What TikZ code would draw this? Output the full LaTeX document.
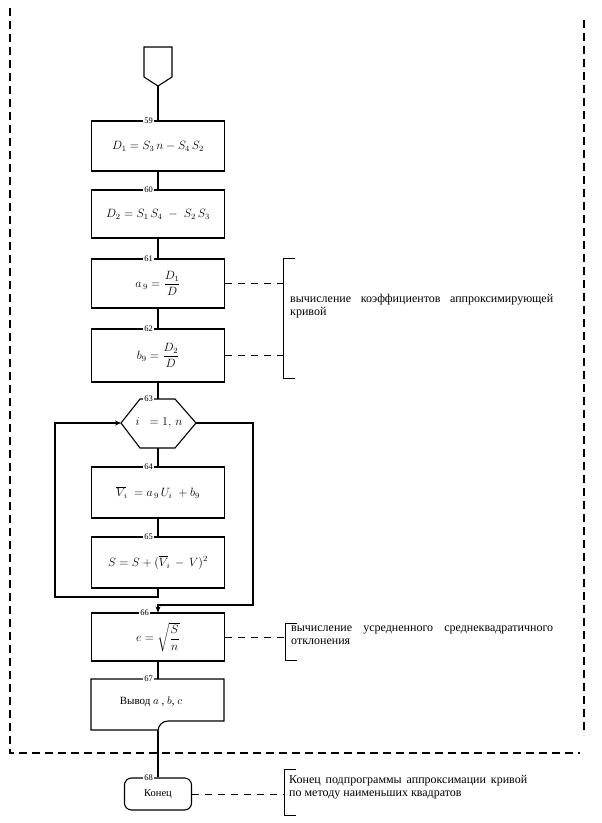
\documentclass[tikz,border=0pt]{standalone}
\usepackage{amsmath}
\usepackage{fontspec}
\setmainfont{Liberation Serif}
\usetikzlibrary{arrows.meta}
\begin{document}
\begin{tikzpicture}[x=1pt,y=-1pt,
  box/.style={draw, line width=1.1pt, minimum width=133pt, inner sep=0pt, font=\fontsize{12}{14}\selectfont},
  num/.style={fill=white, inner sep=1pt, anchor=east, font=\fontsize{8.5}{9}\selectfont},
  flow/.style={line width=1.1pt},
  arr/.style={line width=1.1pt, -{Stealth[length=6pt,width=5pt]}},
  note/.style={dash pattern=on 7pt off 6pt, line width=0.9pt},
  brk/.style={line width=1pt},
  border/.style={dash pattern=on 8pt off 5pt, line width=1.1pt},
  ntext/.style={anchor=north west, inner sep=0pt, align=justify, font=\fontsize{12}{13}\selectfont}]
\useasboundingbox (0,0) rectangle (602,823);

% frame
\draw[border] (10,8) -- (10,753) -- (580,753);
\draw[border] (584,20) -- (584,735);

% start connector (pentagon)
\draw[flow] (144,47) -- (172,47) -- (172,77) -- (158,86) -- (144,77) -- cycle;
\coordinate (start) at (158,86);

% boxes
\node[box, minimum height=50pt] (b59) at (158,146) {$D_1 = S_3\,n - S_4\,S_2$};
\node[box, minimum height=48pt] (b60) at (158,214) {$D_2 = S_1\,S_4 \;-\; S_2\,S_3$};
\node[box, minimum height=49pt] (b61) at (158,283.5) {$a_{\,9} = \dfrac{D_1}{D}$};
\node[box, minimum height=53pt] (b62) at (158,355.5) {$b_9 = \dfrac{D_2}{D}$};

% hexagon 63
\coordinate (h63l) at (121,423);
\coordinate (h63r) at (196,423);
\coordinate (h63t) at (158,399);
\coordinate (h63b) at (158,448);
\draw[flow] (h63l) -- (140,399) -- (175,399) -- (h63r) -- (175,448) -- (140,448) -- cycle;
\node[font=\fontsize{12}{14}\selectfont, inner sep=0pt] (t63) at (159,423) {$i\;\; = 1,\, n$};

\node[box, minimum height=51pt] (b64) at (158,492.5) {$\overline{V}_{\!i} \;= a_{\,9}\, U_i \;+ b_9$};
\node[box, minimum height=51pt] (b65) at (158,562.5) {$S = S + (\overline{V}_{\!i} \,-\, V)^2$};
\node[box, minimum height=48pt] (b66) at (158,637) {$e = \sqrt{\dfrac{S}{n}}$};

% box 67 (output)
\coordinate (b67n) at (158,679);
\coordinate (b67s) at (158,731);
\draw[flow] (b67s) to[out=90,in=180] (168,721) -- (224,721) -- (224,679) -- (91,679) -- (91,730) -- (158,730);
\node[font=\fontsize{11}{13}\selectfont, inner sep=0pt] (t67) at (151,702) {Вывод $a$ , $b$, $c$};

% end
\node[draw, rounded corners=7pt, minimum width=67pt, minimum height=32pt, line width=1.1pt, font=\fontsize{10.5}{12}\selectfont] (konec) at (158,794) {Конец};

% flow lines
\draw[flow] (start) -- (b59.north);
\draw[flow] (b59.south) -- (b60.north);
\draw[flow] (b60.south) -- (b61.north);
\draw[flow] (b61.south) -- (b62.north);
\draw[flow] (b62.south) -- (h63t);
\draw[flow] (h63b) -- (b64.north);
\draw[flow] (b64.south) -- (b65.north);
\draw[arr] (b65.south) -- (158,597) -- (55,597) -- (55,423) -- (h63l);
\draw[arr] (h63r) -- (253,423) -- (253,605) -- (158,605) -- (b66.north);
\draw[flow] (b66.south) -- (b67n);
\draw[flow] (b67s) -- (konec.north);

% numbers
\node[num] (n59) at (154,121) {59};
\node[num] (n60) at (154,190) {60};
\node[num] (n61) at (154,259) {61};
\node[num] (n62) at (154,329) {62};
\node[num] (n63) at (154,399) {63};
\node[num] (n64) at (154,467) {64};
\node[num] (n65) at (154,537) {65};
\node[num] (n66) at (150,613) {66};
\node[num] (n67) at (154,679) {67};
\node[num] (n68) at (154,778) {68};

% brackets and notes
\draw[brk] (295,258) -- (283,258) -- (283,378) -- (295,378);
\coordinate (br1a) at (283,283.5);
\coordinate (br1b) at (283,355.5);
\draw[note] (b61.east) -- (br1a);
\draw[note] (b62.east) -- (br1b);
\node[ntext, text width=263pt] (c1) at (290,294) {вычисление коэффициентов аппроксимирующей\linebreak кривой};

\draw[brk] (297,623) -- (285,623) -- (285,660) -- (297,660);
\coordinate (br2) at (285,637);
\draw[note] (b66.east) -- (br2);
\node[ntext, text width=262pt] (c2) at (291,626) {вычисление усредненного среднеквадратичного\linebreak отклонения};

\draw[brk] (296,769) -- (284,769) -- (284,815) -- (296,815);
\coordinate (br3) at (284,794);
\draw[note] (konec.east) -- (br3);
\node[ntext, text width=238pt] (c3) at (289,775) {Конец подпрограммы аппроксимации кривой\linebreak по методу наименьших квадратов};
\end{tikzpicture}
\end{document}
